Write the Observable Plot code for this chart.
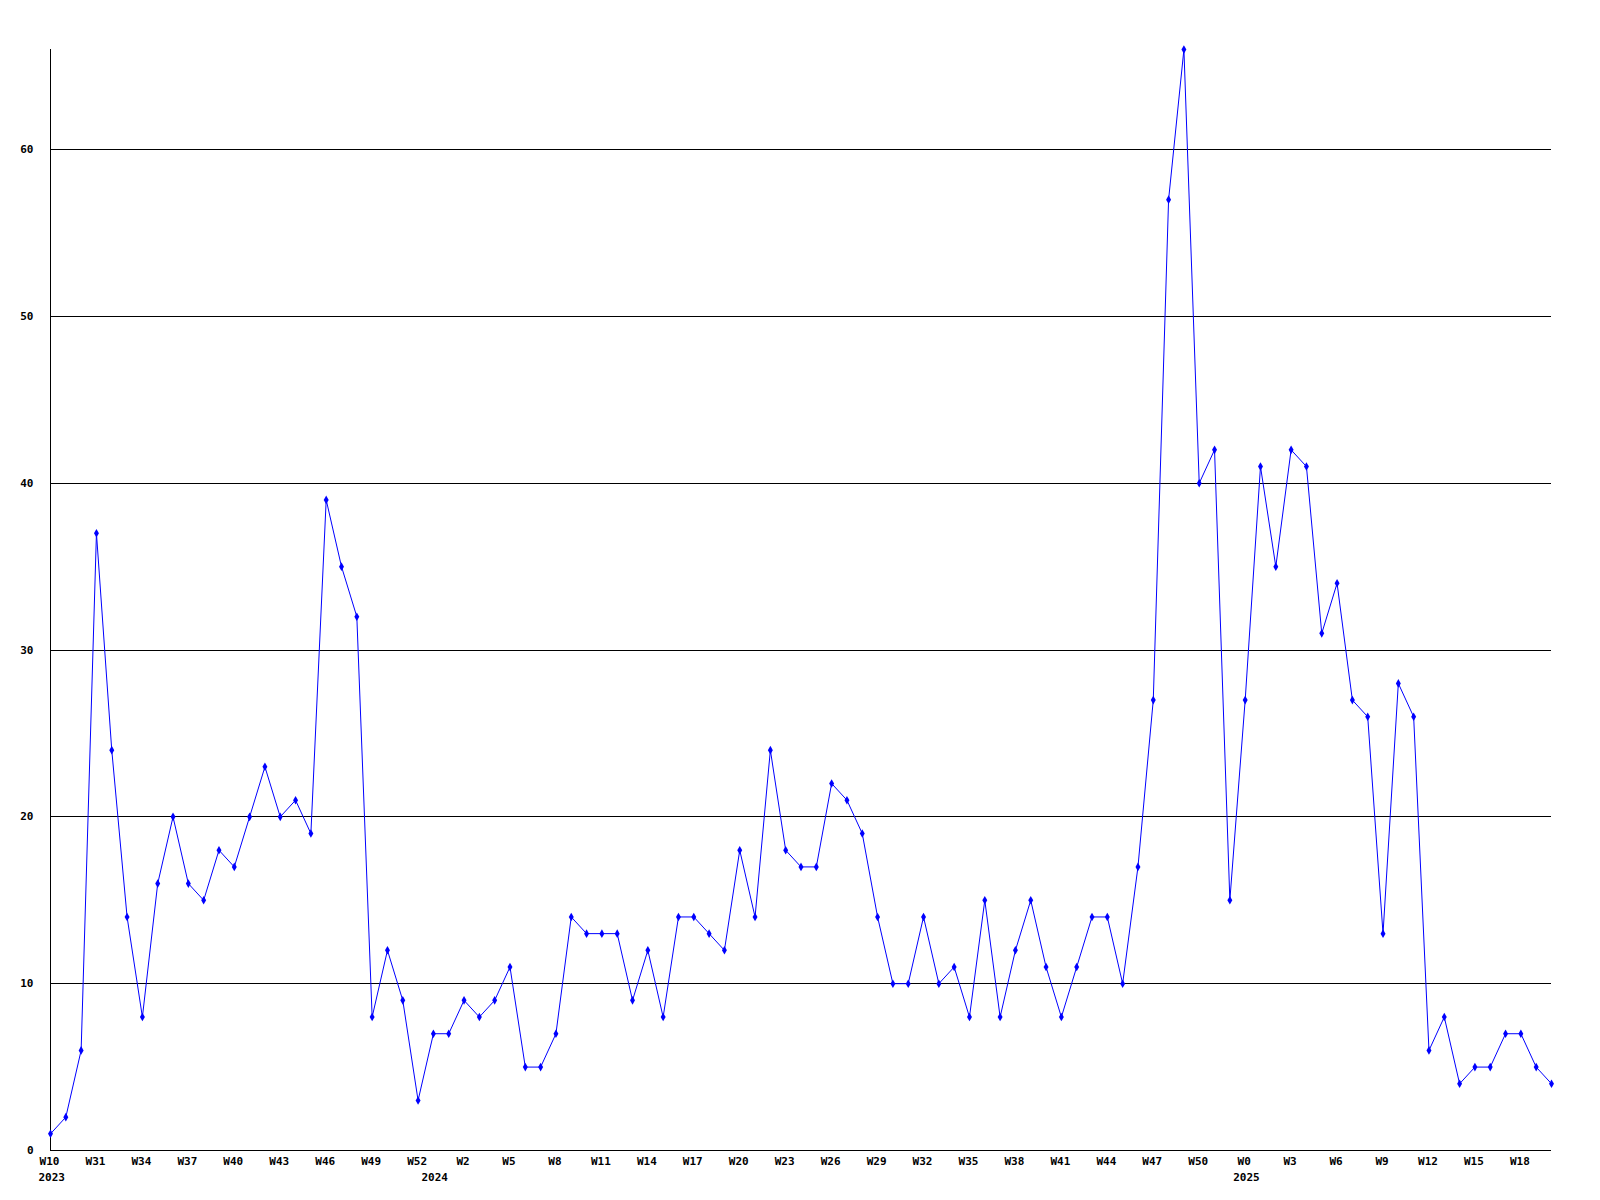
<!DOCTYPE html>
<html>
<head>
<meta charset="utf-8">
<script src="https://cdn.jsdelivr.net/npm/d3@7"></script>
<script src="https://cdn.jsdelivr.net/npm/@observablehq/plot@0.6"></script>
<style>
  html, body { margin: 0; padding: 0; background: #fff; }
  #chart svg { display: block; }
</style>
</head>
<body>
<div id="chart"></div>
<script>
// Weekly counts (one value per week, in order)
const values = [
  1, 2, 6, 37, 24, 14, 8, 16, 20, 16, 15, 18, 17, 20, 23, 20, 21, 19, 39, 35,
  32, 8, 12, 9, 3, 7, 7, 9, 8, 9, 11, 5, 5, 7, 14, 13, 13, 13, 9, 12,
  8, 14, 14, 13, 12, 18, 14, 24, 18, 17, 17, 22, 21, 19, 14, 10, 10, 14, 10, 11,
  8, 15, 8, 12, 15, 11, 8, 11, 14, 14, 10, 17, 27, 57, 66, 40, 42, 15, 27, 41,
  35, 42, 41, 31, 34, 27, 26, 13, 28, 26, 6, 8, 4, 5, 5, 7, 7, 5, 4
];

// Week tick labels, one every 3rd point starting with the first
const weekLabels = [
  "W10", "W31", "W34", "W37", "W40", "W43", "W46", "W49", "W52", "W2", "W5",
  "W8", "W11", "W14", "W17", "W20", "W23", "W26", "W29", "W32", "W35", "W38",
  "W41", "W44", "W47", "W50", "W0", "W3", "W6", "W9", "W12", "W15", "W18"
];
const weekStep = 3;

// Year labels and the point index where each year starts
const yearLabels = ["2023", "2024", "2025"];
const yearStartIndex = [0, 25, 78];

const yTicks = [0, 10, 20, 30, 40, 50, 60];
const yGrid = [10, 20, 30, 40, 50, 60];

const points = values.map((v, i) => ({i, v}));
const weekTicks = weekLabels.map((label, k) => ({i: k * weekStep, label}));
const yearTicks = yearLabels.map((label, k) => ({i: yearStartIndex[k], label}));
const yMax = d3.max(values);

const font = "DejaVu Sans Mono, Liberation Mono, monospace";

const chart = Plot.plot({
  width: 1600,
  height: 1200,
  marginLeft: 50,
  marginRight: 49,
  marginTop: 49,
  marginBottom: 50,
  style: {fontFamily: font, fontSize: "11px", fontWeight: "bold", background: "#fff", color: "#000"},
  x: {type: "linear", domain: [0, values.length - 1], axis: null},
  y: {domain: [0, yMax], axis: null},
  marks: [
    Plot.ruleY(yGrid, {stroke: "#000", strokeWidth: 1, shapeRendering: "crispEdges"}),
    Plot.ruleY([0], {stroke: "#000", strokeWidth: 1, shapeRendering: "crispEdges"}),
    Plot.ruleX([0], {y1: 0, y2: yMax, stroke: "#000", strokeWidth: 1, shapeRendering: "crispEdges"}),
    Plot.axisY(yTicks, {label: null, tickSize: 0, tickPadding: 17, fontWeight: "bold", fontSize: 11, fill: "#000", fontFamily: font}),
    Plot.line(points, {x: "i", y: "v", stroke: "#0000ff", strokeWidth: 1}),
    Plot.dot(points, {x: "i", y: "v", symbol: "diamond", r: 2.6, fill: "#0000ff", stroke: "none"}),
    Plot.text(weekTicks, {x: "i", text: "label", frameAnchor: "bottom", dy: 11, dx: -1, lineAnchor: "middle",
      fill: "#000", fontWeight: "bold", fontSize: 11, fontFamily: font}),
    Plot.text(yearTicks, {x: "i", text: "label", frameAnchor: "bottom", dy: 27, dx: -12, lineAnchor: "middle",
      textAnchor: "start", fill: "#000", fontWeight: "bold", fontSize: 11, fontFamily: font})
  ]
});
document.getElementById("chart").appendChild(chart);
</script>
</body>
</html>
